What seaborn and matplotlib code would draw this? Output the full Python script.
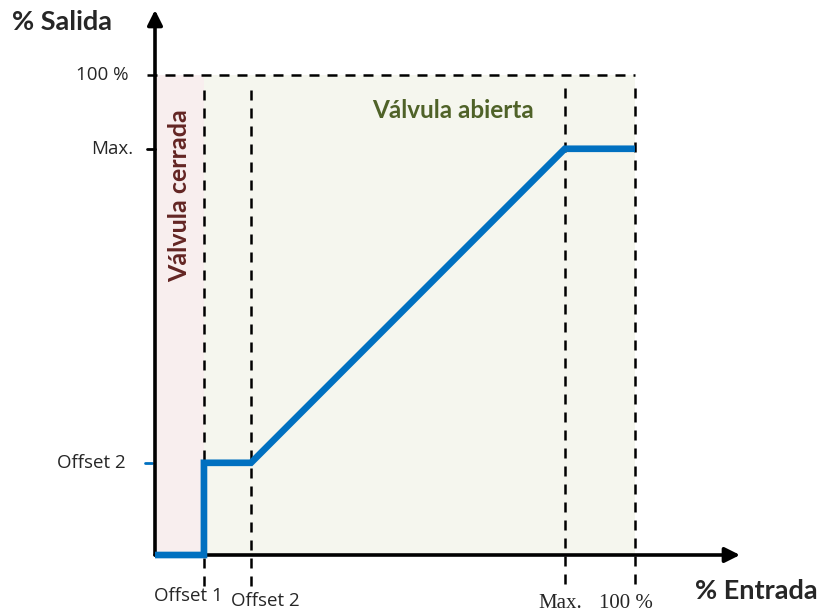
import seaborn as sns
import matplotlib.pyplot as plt
import pandas as pd
import numpy as np

# breakpoints of the valve curve, in % of full scale
entrada = [0, 10.2, 10.2, 20.0, 85.4, 100]
salida = [0, 0, 19.2, 19.2, 84.6, 84.6]
ytick_vals = [19.2, 84.6, 100]
ytick_labels = ['Offset 2', 'Max.', '100 %']
xtick_vals = [10.2, 20.0, 85.4, 100]
xtick_labels = ['Offset 1', 'Offset 2', 'Max.', '100 %']

sns.set_style('white')
plt.rcParams['font.family'] = ['Lato', 'DejaVu Sans']
sans = ['Open Sans', 'DejaVu Sans']

fig = plt.figure(figsize=(8.27, 6.15), dpi=100)
ax = fig.add_axes([155 / 827, 60 / 615, 585 / 827, 545 / 615])
ax.set_xlim(0, 121.9)
ax.set_ylim(0, 113.5)
for s in ax.spines.values():
    s.set_visible(False)
ax.set_xticks([])
ax.set_yticks([])

# shaded regions
ax.fill_between([0, 10.2], 0, 100, color='#f8eeee', lw=0, zorder=0)
ax.fill_between([10.2, 100], 0, 100, color='#f5f6ee', lw=0, zorder=0)

# dashed guides
dash = dict(color='black', lw=1.8, ls=(0, (4, 3.2)), clip_on=False, zorder=2)
ax.plot([-1.7, 100], [100, 100], **dash)
for xv, ybot in zip(xtick_vals, [-6.5, -6.5, -6.0, -6.0]):
    ax.plot([xv, xv], [ybot, 98.3], **dash)

# axes arrows
arrow = dict(arrowstyle='-|>,head_length=0.9,head_width=0.45', color='black', lw=2.6,
             shrinkA=0, shrinkB=0)
ax.annotate('', xy=(121.9, 0), xytext=(0, 0), arrowprops=arrow, annotation_clip=False,
            zorder=3)
ax.annotate('', xy=(0, 113.5), xytext=(0, 0), arrowprops=arrow, annotation_clip=False,
            zorder=3)

# curve
df = pd.DataFrame({'entrada': entrada, 'salida': salida})
sns.lineplot(data=df, x='entrada', y='salida', sort=False, estimator=None,
             color='#0070c0', lw=4.8, ax=ax, zorder=5, clip_on=False,
             solid_joinstyle='miter', solid_capstyle='butt')
ax.set_xlabel('')
ax.set_ylabel('')

# y tick marks and labels
ax.plot([-1.7, 0], [84.6, 84.6], color='black', lw=2, clip_on=False)
ax.plot([-2.1, -0.6], [19.2, 19.2], color='#0070c0', lw=2, clip_on=False)
for yv, lab, xo in zip(ytick_vals, ytick_labels, [-6.2, -4.6, -5.6]):
    ax.text(xo, yv, lab, ha='right', va='center', fontsize=13.5, family=sans)

# x labels
ax.text(6.9, -8.6, xtick_labels[0], ha='center', va='center', fontsize=13.5, family=sans)
ax.text(23.0, -9.5, xtick_labels[1], ha='center', va='center', fontsize=13.5, family=sans)
ax.text(84.4, -10.2, xtick_labels[2], ha='center', va='center', fontsize=15,
        family='Liberation Serif')
ax.text(98.1, -10.2, xtick_labels[3], ha='center', va='center', fontsize=15,
        family='Liberation Serif')

ax.text(62.2, 92.5, 'Válvula abierta', ha='center', va='center', fontsize=17.5,
        fontweight='bold', color='#4f6228')
ax.text(5.2, 74.8, 'Válvula cerrada', ha='center', va='center', rotation=90,
        fontsize=18, fontweight='bold', color='#632523')

fig.text(62 / 827, 1 - 22 / 615, '% Salida', ha='center', va='center', fontsize=19.5,
         fontweight='bold')
fig.text(756 / 827, 1 - 591 / 615, '% Entrada', ha='center', va='center', fontsize=19.5,
         fontweight='bold')

fig.savefig('out.png', dpi=100)
